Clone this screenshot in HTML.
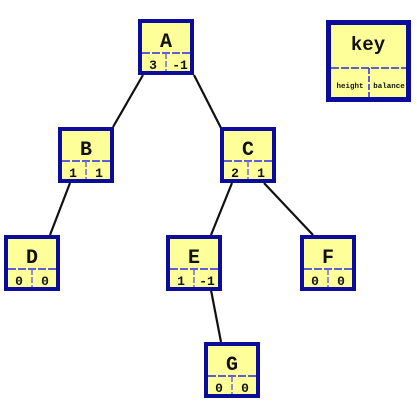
<!DOCTYPE html>
<html><head><style>
html,body{margin:0;padding:0;background:#fff;}
svg{display:block;}
text{font-family:"Liberation Mono",monospace;font-weight:bold;fill:#111;}
</style></head><body>
<svg width="417" height="402" viewBox="0 0 417 402" xmlns="http://www.w3.org/2000/svg">
<g stroke="#111" stroke-width="2.2" fill="none">
<line x1="143" y1="75" x2="113" y2="127"/>
<line x1="194" y1="75" x2="221" y2="128"/>
<line x1="70" y1="183" x2="50" y2="235"/>
<line x1="232" y1="183" x2="211" y2="235"/>
<line x1="264" y1="183" x2="313" y2="235"/>
<line x1="211" y1="290" x2="221" y2="342"/>
</g>
<defs>
<g id="n">
<rect x="2" y="2" width="52" height="52" fill="#ffff99" stroke="#0c0c9c" stroke-width="4"/>
<line x1="4" y1="34" x2="52" y2="34" stroke="#2a2ae8" stroke-width="1.5" stroke-dasharray="8,2"/>
<line x1="28" y1="34" x2="28" y2="52" stroke="#6a6ae0" stroke-width="1.5" stroke-dasharray="6,2"/>
</g>
</defs>
<g font-size="20" text-anchor="middle">
<use href="#n" x="138" y="19"/><text x="166" y="47">A</text>
<use href="#n" x="58" y="127"/><text x="86" y="155">B</text>
<use href="#n" x="220" y="127"/><text x="248" y="155">C</text>
<use href="#n" x="4" y="235"/><text x="32" y="263">D</text>
<use href="#n" x="166" y="235"/><text x="194" y="263">E</text>
<use href="#n" x="300" y="235"/><text x="328" y="263">F</text>
<use href="#n" x="204" y="342"/><text x="232" y="370">G</text>
</g>
<g font-size="13" text-anchor="middle">
<text x="153" y="69">3</text><text x="180" y="69">-1</text>
<text x="73" y="177">1</text><text x="99" y="177">1</text>
<text x="235" y="177">2</text><text x="261" y="177">1</text>
<text x="19" y="285">0</text><text x="45" y="285">0</text>
<text x="181" y="285">1</text><text x="207" y="285">-1</text>
<text x="315" y="285">0</text><text x="341" y="285">0</text>
<text x="219" y="392">0</text><text x="245" y="392">0</text>
</g>
<rect x="328.5" y="22.5" width="80" height="77" fill="#ffff99" stroke="#0c0c9c" stroke-width="5"/>
<line x1="331" y1="68" x2="406" y2="68" stroke="#2a2ae8" stroke-width="1.5" stroke-dasharray="8,2"/>
<line x1="369" y1="68" x2="369" y2="97" stroke="#2a2ae8" stroke-width="1.5" stroke-dasharray="6,2"/>
<text x="368" y="50" font-size="19" text-anchor="middle">key</text>
<text x="350" y="88" font-size="7.5" text-anchor="middle">height</text>
<text x="389" y="88" font-size="7.5" text-anchor="middle">balance</text>
</svg>
</body></html>
